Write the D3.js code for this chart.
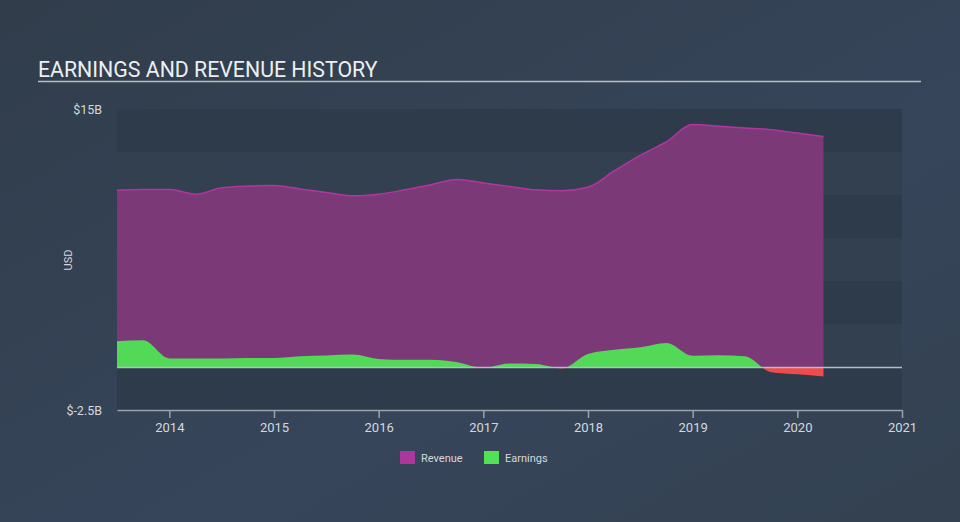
<!DOCTYPE html>
<html><head><meta charset="utf-8">
<script src="https://cdn.jsdelivr.net/npm/d3@7"></script>
<style>
html,body{margin:0;padding:0;background:#354354;}
svg{display:block;font-family:Roboto,"Noto Sans",sans-serif;}
</style></head>
<body>
<svg id="chart" width="960" height="522"></svg>
<script>
const dates = [2013.5,2013.75,2014.0,2014.25,2014.5,2014.75,2015.0,2015.25,2015.5,2015.75,2016.0,2016.25,2016.5,2016.75,2017.0,2017.25,2017.5,2017.75,2018.0,2018.25,2018.5,2018.75,2019.0,2019.25,2019.5,2019.75,2020.0,2020.25];
const revenue = [10.28,10.32,10.32,10.05,10.42,10.52,10.55,10.35,10.15,9.95,10.05,10.3,10.6,10.9,10.7,10.5,10.3,10.25,10.45,11.4,12.3,13.1,14.1,14.0,13.9,13.8,13.6,13.4];
const earnings = [1.5,1.55,0.5,0.5,0.5,0.52,0.53,0.63,0.67,0.72,0.47,0.42,0.42,0.28,-0.05,0.2,0.18,-0.08,0.75,1.0,1.15,1.4,0.65,0.68,0.62,-0.3,-0.42,-0.55];
const xTicks = [2014,2015,2016,2017,2018,2019,2020,2021];
const yTickVals = [15,-2.5];
const yTickLabels = ["$15B","$-2.5B"];
const bandEdges = [15,12.5,10,7.5,5,2.5,0,-2.5];

(function(){
const svg = d3.select("#chart");
const W=960,H=522;
const mLeft=117,mRight=902,mTop=109,mBottom=410;

const defs = svg.append("defs");
const bg = defs.append("linearGradient").attr("id","bg").attr("x1",0).attr("y1",0).attr("x2",1).attr("y2",1);
bg.append("stop").attr("offset","0%").attr("stop-color","#313d4b");
bg.append("stop").attr("offset","60%").attr("stop-color","#36455a");
bg.append("stop").attr("offset","100%").attr("stop-color","#334150");
svg.append("rect").attr("width",W).attr("height",H).attr("fill","url(#bg)");

const x = d3.scaleLinear().domain([2013.5,2021]).range([mLeft,mRight]);
const y = d3.scaleLinear().domain([-2.5,15]).range([mBottom,mTop]);

const g = svg.append("g");
for(let i=0;i<bandEdges.length-1;i++){
  g.append("rect").attr("x",mLeft).attr("width",mRight-mLeft)
   .attr("y",y(bandEdges[i])).attr("height",y(bandEdges[i+1])-y(bandEdges[i]))
   .attr("fill", i%2===0 ? "#2e3b4a" : "#334050");
}

svg.append("text").attr("x",38).attr("y",76.5).attr("fill","#eceff1").attr("font-size",21.3).text("EARNINGS AND REVENUE HISTORY");
svg.append("line").attr("x1",38).attr("x2",921).attr("y1",81.5).attr("y2",81.5).attr("stroke","#b9bec4").attr("stroke-width",1.5);

const pts = dates.map((d,i)=>({d,r:revenue[i],e:earnings[i]}));
const curve = d3.curveMonotoneX;

g.append("path").datum(pts).attr("fill","#7b3a77")
 .attr("d",d3.area().x(p=>x(p.d)).y0(y(0)).y1(p=>y(p.r)).curve(curve));
g.append("path").datum(pts).attr("fill","none").attr("stroke","#b2369f").attr("stroke-width",1.5)
 .attr("d",d3.line().x(p=>x(p.d)).y(p=>y(p.r)).curve(curve));

defs.append("clipPath").attr("id","pos").append("rect").attr("x",0).attr("y",0).attr("width",W).attr("height",y(0));
defs.append("clipPath").attr("id","neg").append("rect").attr("x",0).attr("y",y(0)).attr("width",W).attr("height",H);
const eArea = d3.area().x(p=>x(p.d)).y0(y(0)).y1(p=>y(p.e)).curve(curve);
g.append("path").datum(pts).attr("fill","#51d957").attr("clip-path","url(#pos)").attr("d",eArea);
g.append("path").datum(pts).attr("fill","#ef4b4b").attr("clip-path","url(#neg)").attr("d",eArea);

g.append("line").attr("x1",mLeft).attr("x2",mRight).attr("y1",y(0)+0.5).attr("y2",y(0)+0.5).attr("stroke","#b8bcc2").attr("stroke-width",1.5);

const xAxis = d3.axisBottom(x).tickValues(xTicks).tickFormat(d3.format("d")).tickSize(8).tickSizeOuter(0);
const xa = svg.append("g").attr("transform",`translate(0,${mBottom})`).call(xAxis);
xa.select(".domain").attr("stroke","#9aa3ad").attr("stroke-width",1.5);
xa.selectAll(".tick line").attr("stroke","#9aa3ad").attr("stroke-width",1.5);
xa.selectAll(".tick text").attr("fill","#d4d8dc").attr("font-size",13).attr("font-family","Roboto").attr("dy","0.85em");

const yAxis = d3.axisLeft(y).tickValues(yTickVals).tickFormat((d,i)=>yTickLabels[i]).tickSize(0).tickPadding(15);
const ya = svg.append("g").attr("transform",`translate(${mLeft},0)`).call(yAxis);
ya.select(".domain").remove();
ya.selectAll(".tick text").attr("fill","#d4d8dc").attr("font-size",12.5).attr("font-family","Roboto");

svg.append("text").attr("transform","translate(72,260) rotate(-90)").attr("text-anchor","middle")
 .attr("fill","#d4d8dc").attr("font-size",11).text("USD");

const legend = [{name:"Revenue",color:"#a9379e",x:400},{name:"Earnings",color:"#51e056",x:484}];
legend.forEach(l=>{
  svg.append("rect").attr("x",l.x).attr("y",451).attr("width",15).attr("height",13).attr("fill",l.color);
  svg.append("text").attr("x",l.x+21).attr("y",462).attr("fill","#d4d8dc").attr("font-size",11).text(l.name);
});
})();
</script>
</body></html>
